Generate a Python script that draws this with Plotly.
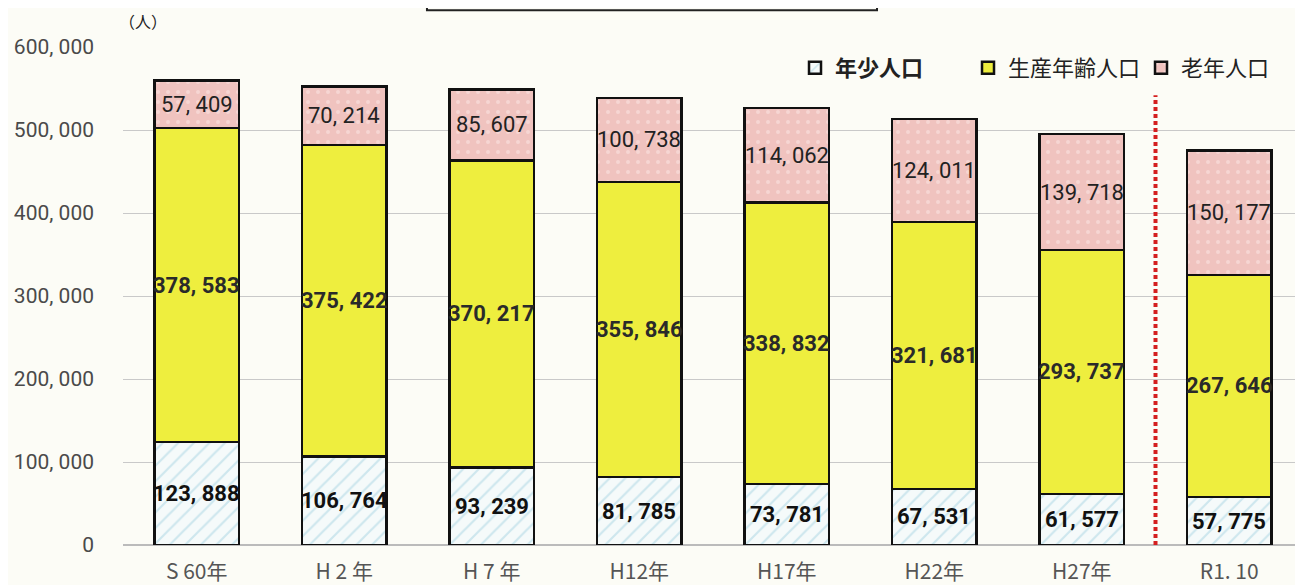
import plotly.graph_objects as go

categories = ["S 60年", "H 2 年", "H 7 年", "H12年", "H17年", "H22年", "H27年", "R1. 10"]
young = [123888, 106764, 93239, 81785, 73781, 67531, 61577, 57775]
working = [378583, 375422, 370217, 355846, 338832, 321681, 293737, 267646]
old = [57409, 70214, 85607, 100738, 114062, 124011, 139718, 150177]
series_names = ["<b>年少人口</b>", "生産年齢人口", "老年人口"]
y_tickvals = [0, 100000, 200000, 300000, 400000, 500000, 600000]
y_ticktext = ["0", "100, 000", "200, 000", "300, 000", "400, 000", "500, 000", "600, 000"]

NUM_FONT = "Roboto, Liberation Sans, sans-serif"
JP_FONT = "Noto Sans CJK JP, sans-serif"

def fmt(v):
    return f"{v:,}".replace(",", ", ")

fig = go.Figure()
line = dict(color="#111111", width=2.5)
fig.add_trace(go.Bar(
    x=categories, y=young, name=series_names[0],
    marker=dict(color="#f4fafa", line=line,
                pattern=dict(shape="/", fgcolor="#a6d3e2", bgcolor="#f5fafa", size=11, solidity=0.2)),
))
fig.add_trace(go.Bar(
    x=categories, y=working, name=series_names[1],
    marker=dict(color="#eeee3e", line=line),
))
fig.add_trace(go.Bar(
    x=categories, y=old, name=series_names[2],
    marker=dict(color="#f0c3bf", line=line,
                pattern=dict(shape=".", fgcolor="#fbe9e7", bgcolor="#f0c3bf", size=10, solidity=0.12)),
))

# segment labels
for i, c in enumerate(categories):
    base = 0
    for vals, bold, col in ((young, True, "#111111"), (working, True, "#2a2a2a"), (old, False, "#222222")):
        v = vals[i]
        txt = fmt(v)
        if bold:
            txt = "<b>" + txt + "</b>"
        fig.add_annotation(x=c, y=base + v / 2, text=txt, showarrow=False,
                           font=dict(family=NUM_FONT, size=22, color=col))
        base += v

# divider before latest value
fig.add_shape(type="line", x0=6.5, x1=6.5, y0=0, y1=542000, xref="x", yref="y",
              line=dict(color="#d41f1f", width=4, dash="4px,3px"))

# unit label
fig.add_annotation(xref="paper", yref="paper", x=0.0, y=1.052, xanchor="left", yanchor="middle",
                   xshift=-6, text="（人）", showarrow=False,
                   font=dict(family=JP_FONT, size=16, color="#222222"))

# clipped title frame at the top
fig.add_shape(type="rect", xref="paper", yref="paper", x0=0.2576, x1=0.639, y0=1.074, y1=1.3,
              line=dict(color="#222222", width=2))

fig.update_layout(
    width=1295, height=577,
    barmode="stack", bargap=0.425,
    paper_bgcolor="#fcfcf6", plot_bgcolor="#fcfcf6",
    margin=dict(l=115, r=0, t=39, b=40, autoexpand=False),
    showlegend=True,
    legend=dict(orientation="h", x=0.5695, y=0.958, xanchor="left", yanchor="middle",
                bgcolor="rgba(0,0,0,0)", font=dict(family=JP_FONT, size=22, color="#222222"),
                entrywidth=128, traceorder="normal"),
    xaxis=dict(type="category", range=[-0.5, 7.5], showgrid=False, showline=False, zeroline=False,
               tickfont=dict(family=JP_FONT, size=21, color="#555555"), ticks="",
               ticklabelstandoff=12, automargin=False),
    yaxis=dict(range=[0, 600000], tickvals=y_tickvals, ticktext=y_ticktext,
               showgrid=True, gridcolor="#c9c9c9", gridwidth=1, zeroline=True, zerolinecolor="#bbbbbb",
               tickfont=dict(family=NUM_FONT, size=21, color="#4a4a4a"), ticks="",
               ticklabelstandoff=28, showline=False, automargin=False),
)

fig.write_html("out.html")
